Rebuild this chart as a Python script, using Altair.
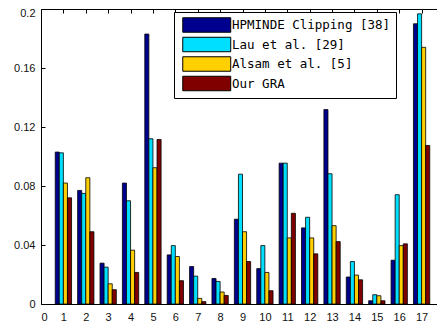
import altair as alt
import pandas as pd

groups = list(range(1, 18))
series_names = ["HPMINDE Clipping [38]", "Lau et al. [29]", "Alsam et al. [5]", "Our GRA"]
hpminde = [0.103, 0.077, 0.0277, 0.082, 0.183, 0.0333, 0.0254, 0.0173, 0.0575, 0.024,
           0.0955, 0.0516, 0.1318, 0.0183, 0.0022, 0.0297, 0.190]
lau = [0.1025, 0.075, 0.025, 0.070, 0.112, 0.0396, 0.0189, 0.0153, 0.088, 0.0396,
       0.0955, 0.0588, 0.0883, 0.0288, 0.0063, 0.0741, 0.1967]
alsam = [0.082, 0.0856, 0.0137, 0.0365, 0.0924, 0.0322, 0.0038, 0.0081, 0.049, 0.0214,
         0.0448, 0.0448, 0.0531, 0.0196, 0.0056, 0.0396, 0.174]
gra = [0.072, 0.049, 0.0097, 0.0214, 0.1115, 0.0158, 0.0016, 0.0058, 0.0288, 0.009,
       0.0615, 0.034, 0.0423, 0.0164, 0.0022, 0.0408, 0.1075]
colors = ["#00008F", "#00DFFF", "#FFCF00", "#800000"]
y_ticks = [0, 0.04, 0.08, 0.12, 0.16, 0.2]
x_ticks = list(range(0, 18))

rows = []
for idx, (name, vals) in enumerate(zip(series_names, [hpminde, lau, alsam, gra])):
    for g, v in zip(groups, vals):
        rows.append({"group": g, "series": name, "idx": idx, "value": v})
df = pd.DataFrame(rows)

# x range runs past the visible view so that the right edge falls off the page, as in the reference
xscale = alt.Scale(domain=[0, 18], nice=False, zero=False, range=[0, 403])
yscale = alt.Scale(domain=[0, 0.2], nice=False)

INWARD = {"expr": "-4"}
lab_font = "Liberation Sans"

base = alt.Chart(df).transform_calculate(
    xl="datum.group - 0.364 + datum.idx * 0.182",
    xr="datum.group - 0.182 + datum.idx * 0.182",
)

legend_path = "M-1,-1h6.62v2h-6.62z"

bars = base.mark_bar(stroke="black", strokeWidth=0.8).encode(
    x=alt.X("xl:Q", scale=xscale, title=None,
            axis=alt.Axis(orient="bottom", values=x_ticks, format="d", grid=False,
                          domain=True, domainColor="black", domainWidth=1,
                          tickSize=INWARD, tickColor="black",
                          labelFont=lab_font, labelFontSize=11, labelColor="#111",
                          labelPadding=11)),
    x2="xr:Q",
    y=alt.Y("value:Q", scale=yscale, title=None,
            axis=alt.Axis(orient="left", values=y_ticks, grid=False,
                          domain=True, domainColor="black", domainWidth=1,
                          tickSize=INWARD, tickColor="black",
                          labelExpr="format(datum.value, '.2~f')",
                          labelFont=lab_font, labelFontSize=11, labelColor="#111",
                          labelPadding=10, labelBaseline="middle",
                          labelOffset={"condition": {"test": "datum.value >= 0.19", "value": 4.5}, "value": 0})),
    y2=alt.datum(0),
    color=alt.Color("series:N", sort=series_names,
                    scale=alt.Scale(domain=series_names, range=colors),
                    legend=alt.Legend(orient="none", legendX=133, legendY=3, title=None,
                                      symbolType=legend_path, symbolSize=210,
                                      symbolStrokeColor="black", symbolStrokeWidth=1,
                                      symbolOpacity=1, symbolOffset=3,
                                      labelFont="DejaVu Sans Mono", labelFontSize=12.5,
                                      labelColor="black", labelOffset=34, labelLimit=400,
                                      strokeColor="black", fillColor="white",
                                      padding=5, rowPadding={"expr": "-0.5"})),
)

frame = base.mark_bar(opacity=0).encode(
    x=alt.X("xl:Q", scale=xscale, title=None,
            axis=alt.Axis(orient="top", values=x_ticks, labels=False, grid=False,
                          domain=True, domainColor="black", domainWidth=1,
                          tickSize=INWARD, tickColor="black")),
    x2="xr:Q",
    y=alt.Y("value:Q", scale=yscale, title=None,
            axis=alt.Axis(orient="right", values=y_ticks, labels=False, ticks=False,
                          grid=False, domain=False)),
    y2=alt.datum(0),
)

chart = alt.layer(bars, frame).properties(
    width=396, height=295,
    autosize=alt.AutoSizeParams(type="none"),
    padding={"left": 33, "top": 1, "right": 0, "bottom": 22},
    background="white",
).configure_view(strokeWidth=0)

chart.save("out.html", embed_options={"renderer": "svg", "actions": False})
